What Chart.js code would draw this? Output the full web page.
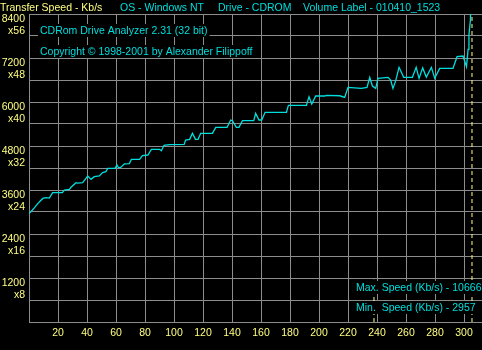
<!DOCTYPE html>
<html>
<head>
<meta charset="utf-8">
<script src="https://cdn.jsdelivr.net/npm/chart.js@4.4.1/dist/chart.umd.min.js"></script>
<style>
  html, body { margin: 0; padding: 0; background: #000; }
  canvas { display: block; }
</style>
</head>
<body>
<canvas id="transferChart" width="482" height="350"></canvas>
<script>
// CD-ROM transfer speed test
const positions = [0, 3, 6, 9.5, 11.7, 14, 16.3, 23, 24.4, 27.8, 29, 32.4, 33.5, 37, 39.3, 40.5, 42.8, 45, 48.5,
    50.8, 53, 54.3, 59.3, 60.7, 61.6, 63, 65.8, 69.2, 70.6, 76.3, 78.2, 82, 84.4, 90, 91.3, 93.1, 97, 107, 108,
    110.8, 112.7, 114.8, 116.6, 118.4, 126.5, 128.8, 136.6, 139.1, 140.3, 143, 144.8, 147.2, 155, 156.3, 158.6,
    160.5, 162.8, 177.5, 178.9, 191.3, 193.1, 195, 197.7, 204, 205, 214.3, 217.7, 220, 229.2, 233.1, 235, 236.8,
    239.1, 240.7, 247.6, 249.4, 251, 252.9, 255.2, 258.4, 264.4, 267, 269, 271.5, 274, 277.5, 279.8, 283.2,
    292.4, 295.2, 299.3, 301.7, 302.8, 303.4, 304.4, 305, 305.5];
const speedKbs = [2957, 3080, 3230, 3370, 3390, 3380, 3527, 3527, 3600, 3618, 3673, 3800, 3790, 3800, 3918, 3982, 3890, 3963, 3982,
    4073, 4100, 4190, 4190, 4281, 4218, 4210, 4310, 4320, 4436, 4436, 4536, 4554, 4709, 4709, 4672, 4818, 4836, 4845, 4963,
    4981, 5145, 4981, 4981, 5145, 5145, 5309, 5309, 5509, 5490, 5309, 5309, 5490, 5490, 5690, 5509,
    5509, 5718, 5718, 5909, 5909, 6145, 5945, 6163, 6163, 6182, 6170, 6127, 6400, 6372, 6400, 6673, 6436,
    6372, 6645, 6673, 6600, 6372, 6582, 6945, 6673, 6673, 6945, 6645, 6930, 6680, 6945, 6645, 6918,
    6918, 7236, 7254, 6963, 7436, 7827, 8236, 9400, 10666];

const endMarkerX = [305.5, 305.5];
const endMarkerY = [0, 8400];
const midMarkerX = [237.9, 237.9];
const midMarkerY = [0, 1150];

const headerTexts = ['Transfer Speed - Kb/s', 'OS - Windows NT', 'Drive - CDROM', 'Volume Label - 010410_1523'];
const infoTexts = ['CDRom Drive Analyzer 2.31 (32 bit)', 'Copyright \u00A9 1998-2001 by Alexander Filippoff'];
const summaryTexts = ['Max. Speed (Kb/s) - 10666', 'Min.  Speed (Kb/s) - 2957'];

const FONT = '10.5px "Liberation Sans", Arial, sans-serif';
const YELLOW = '#ffff80';
const CYAN = '#00dede';
const GRID = '#8c8c8c';

const toPoints = (xs, ys) => xs.map((x, i) => ({ x: x, y: ys[i] }));

// header line and boxed captions
const overlayText = {
    id: 'overlayText',
    afterDraw(chart) {
        const c = chart.ctx;
        c.save();
        c.font = FONT;
        c.textBaseline = 'alphabetic';
        c.textAlign = 'left';

        const headerX = [0, 120, 218, 303];
        headerTexts.forEach((t, i) => {
            c.fillStyle = i === 0 ? YELLOW : CYAN;
            c.fillText(t, headerX[i], 11);
        });

        const boxed = (t, x, base) => {
            const w = c.measureText(t).width;
            c.fillStyle = '#000';
            c.fillRect(x - 2, base - 10, w + 4, 13);
            c.fillStyle = CYAN;
            c.fillText(t, x, base);
        };
        boxed(infoTexts[0], 40, 34);
        boxed(infoTexts[1], 40, 55);
        boxed(summaryTexts[0], 356, 291);
        boxed(summaryTexts[1], 356, 311);
        c.restore();
    }
};

const ctx = document.getElementById('transferChart');

new Chart(ctx, {
    type: 'line',
    data: {
        datasets: [{
            label: 'Speed',
            data: toPoints(positions, speedKbs),
            borderColor: CYAN,
            borderWidth: 1.3,
            pointRadius: 0,
            tension: 0,
            fill: false
        }, {
            label: 'End',
            data: toPoints(endMarkerX, endMarkerY),
            borderColor: YELLOW,
            borderWidth: 1,
            borderDash: [4, 3],
            pointRadius: 0,
            fill: false
        }, {
            label: 'Mark',
            data: toPoints(midMarkerX, midMarkerY),
            borderColor: YELLOW,
            borderWidth: 1,
            borderDash: [4, 3],
            pointRadius: 0,
            fill: false
        }]
    },
    options: {
        responsive: false,
        animation: false,
        layout: {
            padding: { top: 14, left: 0, right: 0, bottom: 0 }
        },
        plugins: {
            legend: { display: false },
            tooltip: { enabled: false }
        },
        scales: {
            x: {
                type: 'linear',
                min: 0,
                max: 312.4,
                afterFit: function (scale) {
                    scale.height = 28;
                    scale.paddingLeft = 0;
                    scale.paddingRight = 0;
                },
                grid: {
                    color: GRID,
                    drawTicks: false
                },
                border: { color: GRID },
                ticks: {
                    stepSize: 20,
                    includeBounds: false,
                    autoSkip: false,
                    maxRotation: 0,
                    padding: 5,
                    color: YELLOW,
                    font: { family: '"Liberation Sans", Arial, sans-serif', size: 10.5 },
                    callback: function (value) {
                        return value === 0 ? '' : String(value);
                    }
                }
            },
            y: {
                min: 0,
                max: 8400,
                afterFit: function (scale) {
                    scale.width = 29;
                    scale.paddingTop = 0;
                    scale.paddingBottom = 0;
                },
                grid: {
                    color: GRID,
                    drawTicks: false
                },
                border: { color: GRID },
                ticks: {
                    stepSize: 600,
                    autoSkip: false,
                    padding: 4,
                    labelOffset: 11,
                    color: YELLOW,
                    font: { family: '"Liberation Sans", Arial, sans-serif', size: 10.5, lineHeight: 1.15 },
                    callback: function (value) {
                        if (value === 0 || value % 1200 !== 0) return '';
                        return [String(value), 'x' + (value / 150)];
                    }
                }
            }
        }
    },
    plugins: [overlayText]
});
</script>
</body>
</html>
